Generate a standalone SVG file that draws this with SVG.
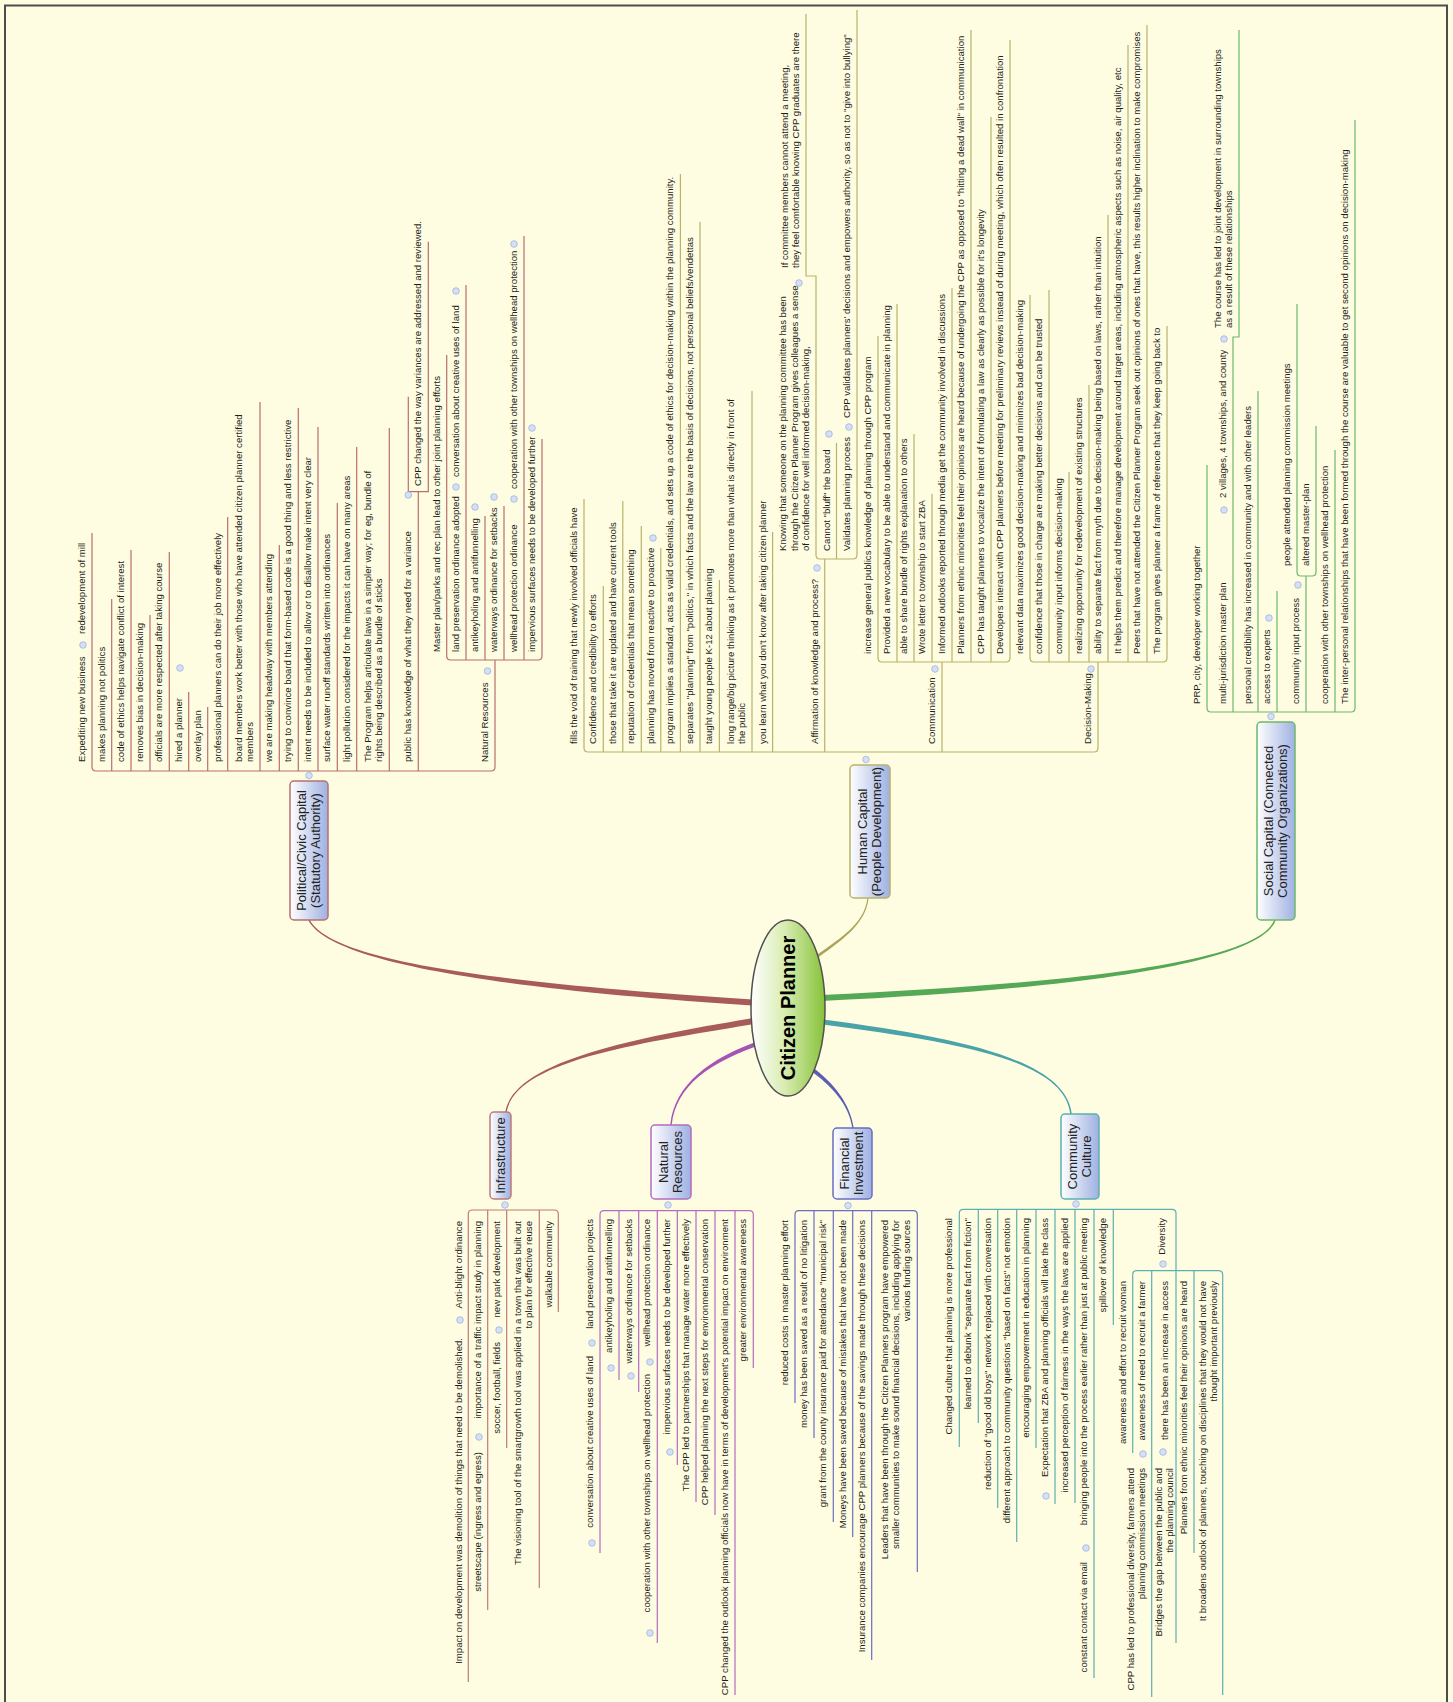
<svg xmlns="http://www.w3.org/2000/svg" width="1453" height="1702" viewBox="0 0 1453 1702">
<defs>
<linearGradient id="boxg" x1="0" y1="0" x2="1" y2="0"><stop offset="0" stop-color="#ffffff"/><stop offset="1" stop-color="#9fb1e2"/></linearGradient>
<linearGradient id="cg" x1="0" y1="0" x2="1" y2="0"><stop offset="0" stop-color="#ffffff"/><stop offset="0.45" stop-color="#d9edb2"/><stop offset="1" stop-color="#86c23a"/></linearGradient>
</defs>
<style>
.t{font-family:"Liberation Sans",Arial,sans-serif;font-size:9.6px;fill:#1e1e1e}
.e{text-anchor:end}
.bx{font-family:"Liberation Sans",Arial,sans-serif;font-size:13px;fill:#222;text-anchor:middle}
.ln{fill:none;stroke-width:1.2}
.bu{fill:#d5e0f5;stroke:#9db3e0;stroke-width:0.8}
.box{fill:url(#boxg);stroke-width:1.5}
.pol{stroke:#b96f6f}.hum{stroke:#b8b36a}.soc{stroke:#6cb86c}.inf{stroke:#bf7a7a}.nat{stroke:#b46cbe}.fin{stroke:#6a6ec0}.com{stroke:#5cb0b0}
</style>
<rect x="0" y="0" width="1453" height="1702" fill="#fffde1"/>
<rect x="5" y="5.5" width="1442" height="1720" fill="none" stroke="#4d4d4d" stroke-width="2"/>

<g id="connectors">
<path fill="#a85b5b" d="M760.2,1000 C480.2,982 330.7,959.7 309.7,919.7 L308.3,920.3 C329.3,960.3 479.8,988 759.8,1006 Z"/>
<path fill="#55a855" d="M821.1,1001 C1100.1,988 1260.7,960.3 1275.7,920.3 L1274.3,919.7 C1259.3,959.7 1099.9,982 820.9,995 Z"/>
<path fill="#a9a45a" d="M812.9,961.2 C840.9,941.2 865.6,925.1 868.6,898.1 L867.4,897.9 C864.4,924.9 839.1,938.8 811.1,958.8 Z"/>
<path fill="#a85b5b" d="M759.5,1017 C639.5,1037 514.3,1059.9 505.3,1111.9 L506.7,1112.1 C515.7,1060.1 640.5,1043 760.5,1023 Z"/>
<path fill="#a455b4" d="M761.3,1040.1 C709.3,1058.1 674.3,1084.9 670.3,1124.9 L671.7,1125.1 C675.7,1085.1 710.7,1061.9 762.7,1043.9 Z"/>
<path fill="#5a5fb5" d="M808.8,1069.6 C831.8,1085.6 849.3,1105.1 852.3,1128.1 L853.7,1127.9 C850.7,1104.9 834.2,1082.4 811.2,1066.4 Z"/>
<path fill="#4aa3a8" d="M822.7,1024.5 C959.7,1042.5 1064.3,1060.1 1070.3,1114.1 L1071.8,1113.9 C1065.8,1059.9 960.3,1037.5 823.3,1019.5 Z"/>
</g>

<g id="center">
<ellipse cx="788" cy="1008" rx="37" ry="88" fill="url(#cg)" stroke="#505050" stroke-width="1.5"/>
<text transform="translate(795,1008) rotate(-90)" text-anchor="middle" font-family="Liberation Sans, Arial, sans-serif" font-weight="bold" font-size="20" fill="#000">Citizen Planner</text>
</g>

<g id="political">
<rect class="box pol" x="290" y="781" width="38" height="139" rx="4"/>
<text class="bx" transform="translate(305.5,850.5) rotate(-90)">Political/Civic Capital<tspan x="0" dy="14">(Statutory Authority)</tspan></text>
<circle class="bu" cx="309" cy="775.5" r="3.3"/>
<path class="ln pol" d="M92,533 V767 Q92,771 96,771 H491 Q495,771 495,767 V660 M111.7,771 V599 M131,771 V550 M150,771 V615 M169.3,771 V552 M188.7,771 V692 M207.7,771 V707 M227.7,771 V517 M260,771 V402 M279.3,771 V545 M298.3,771 V408 M318,771 V427 M337.3,771 V503 M356.7,771 V447 M389.3,771 V428 M418.3,771 V491.7 M408.3,396.7 V491.7 H428.3 V241.7 M446.7,355 V656 Q446.7,660 450.7,660 H538 Q542,660 542,656 V439 M466,660 V285 M485,660 V516 M504,660 V506 M524,660 V236"/>
<text class="t" transform="translate(85,762) rotate(-90)">Expediting new business</text>
<circle class="bu" cx="83" cy="645" r="3.3"/>
<text class="t" transform="translate(85,634) rotate(-90)">redevelopment of mill</text>
<text class="t" transform="translate(104.7,762) rotate(-90)">makes planning not politics</text>
<text class="t" transform="translate(124,762) rotate(-90)">code of ethics helps navigate conflict of interest</text>
<text class="t" transform="translate(143,762) rotate(-90)">removes bias in decision-making</text>
<text class="t" transform="translate(162.3,762) rotate(-90)">officials are more respected after taking course</text>
<text class="t" transform="translate(181.7,762) rotate(-90)">hired a planner</text>
<circle class="bu" cx="180" cy="668" r="3.3"/>
<text class="t" transform="translate(200.7,762) rotate(-90)">overlay plan</text>
<text class="t" transform="translate(220.7,762) rotate(-90)">professional planners can do their job more effectively</text>
<text class="t" transform="translate(242,762) rotate(-90)">board members work better with those who have attended citizen planner certified<tspan x="0" dy="11">members</tspan></text>
<text class="t" transform="translate(272.3,762) rotate(-90)">we are making headway with members attending</text>
<text class="t" transform="translate(291.3,762) rotate(-90)">trying to convince board that form-based code is a good thing and less restrictive</text>
<text class="t" transform="translate(311,762) rotate(-90)">intent needs to be included to allow or to disallow make intent very clear</text>
<text class="t" transform="translate(330.3,762) rotate(-90)">surface water runoff standards written into ordinances</text>
<text class="t" transform="translate(349.7,762) rotate(-90)">light pollution considered for the impacts it can have on many areas</text>
<text class="t" transform="translate(371,762) rotate(-90)">The Program helps articulate laws in a simpler way; for eg, bundle of<tspan x="0" dy="11">rights being described as a bundle of sticks</tspan></text>
<text class="t" transform="translate(411.3,762) rotate(-90)">public has knowledge of what they need for a variance</text>
<circle class="bu" cx="408.3" cy="495" r="3.3"/>
<text class="t" transform="translate(421,486) rotate(-90)">CPP changed the way variances are addressed and reviewed.</text>
<text class="t" transform="translate(488,762) rotate(-90)">Natural Resources</text>
<circle class="bu" cx="487.5" cy="671" r="3.3"/>
<text class="t" transform="translate(439.7,652) rotate(-90)">Master plan/parks and rec plan lead to other joint planning efforts</text>
<text class="t" transform="translate(459,652) rotate(-90)">land preservation ordinance adopted</text>
<circle class="bu" cx="456" cy="487" r="3.3"/>
<text class="t" transform="translate(459,477) rotate(-90)">conversation about creative uses of land</text>
<circle class="bu" cx="456" cy="291" r="3.3"/>
<text class="t" transform="translate(478,652) rotate(-90)">antikeyholing and antifunnelling</text>
<circle class="bu" cx="475" cy="507" r="3.3"/>
<text class="t" transform="translate(497,652) rotate(-90)">waterways ordinance for setbacks</text>
<circle class="bu" cx="494" cy="497" r="3.3"/>
<text class="t" transform="translate(517,652) rotate(-90)">wellhead protection ordinance</text>
<circle class="bu" cx="514" cy="499" r="3.3"/>
<text class="t" transform="translate(517,489) rotate(-90)">cooperation with other townships on wellhead protection</text>
<circle class="bu" cx="514" cy="244" r="3.3"/>
<text class="t" transform="translate(535,652) rotate(-90)">impervious surfaces needs to be developed further</text>
<circle class="bu" cx="532" cy="428" r="3.3"/>
</g>

<g id="human">
<rect class="box hum" x="850" y="765" width="40" height="133" rx="4"/>
<text class="bx" transform="translate(866.5,831.5) rotate(-90)">Human Capital<tspan x="0" dy="14">(People Development)</tspan></text>
<circle class="bu" cx="866" cy="759.5" r="3.3"/>
<path class="ln hum" d="M584,499 V748 Q584,752 588,752 H1094 Q1098,752 1098,748 V662 M603.3,752 V586 M622.8,752 V501 M641.3,752 V526 M660.8,752 V548 M680.4,752 V174 M700,752 V222 M719.4,752 V580 M752,752 V391 M772.6,752 V532 M824.7,752 V559 M942,752 V662 M806,14 V276 H816 V555 Q816,559 820,559 H853 Q857,559 857,555 V10 M836.5,559 V443 M878,336 V658 Q878,662 882,662 H1006 Q1010,662 1010,658 V40 M897,662 V304 M914,662 V434 M932,662 V494 M952,662 V288 M971,662 V30 M991,662 V117 M1030,295 V658 Q1030,662 1034,662 H1163 Q1167,662 1167,658 V326 M1049,662 V290 M1069,662 V472 M1089,662 V385 M1108,662 V215 M1128,662 V45 M1147,662 V25"/>
<text class="t" transform="translate(576.8,744) rotate(-90)">fills the void of training that newly involved officials have</text>
<text class="t" transform="translate(596.3,744) rotate(-90)">Confidence and credibility to efforts</text>
<text class="t" transform="translate(615.8,744) rotate(-90)">those that take it are updated and have current tools</text>
<text class="t" transform="translate(634.3,744) rotate(-90)">reputation of credentials that mean something</text>
<text class="t" transform="translate(653.8,744) rotate(-90)">planning has moved from reactive to proactive</text>
<circle class="bu" cx="653" cy="538" r="3.3"/>
<text class="t" transform="translate(673.4,744) rotate(-90)">program implies a standard, acts as valid credentials, and sets up a code of ethics for decision-making within the planning community.</text>
<text class="t" transform="translate(693,744) rotate(-90)">separates "planning" from "politics," in which facts and the law are the basis of decisions, not personal beliefs/vendettas</text>
<text class="t" transform="translate(712.4,744) rotate(-90)">taught young people K-12 about planning</text>
<text class="t" transform="translate(734,744) rotate(-90)">long range/big picture thinking as it promotes more than what is directly in front of<tspan x="0" dy="11">the public</tspan></text>
<text class="t" transform="translate(765.6,744) rotate(-90)">you learn what you don't know after taking citizen planner</text>
<text class="t" transform="translate(817.7,744) rotate(-90)">Affirmation of knowledge and process?</text>
<circle class="bu" cx="817" cy="568" r="3.3"/>
<text class="t" transform="translate(786,551) rotate(-90)">Knowing that someone on the planning committee has been<tspan x="0" dy="11.5">through the Citizen Planner Program gives colleagues a sense</tspan><tspan x="0" dy="11.5">of confidence for well informed decision-making,</tspan></text>
<circle class="bu" cx="799" cy="283" r="3.3"/>
<text class="t" transform="translate(787.5,268) rotate(-90)">If committee members cannot attend a meeting,<tspan x="0" dy="11.5">they feel comfortable knowing CPP graduates are there</tspan></text>
<text class="t" transform="translate(830,551) rotate(-90)">Cannot "bluff" the board</text>
<circle class="bu" cx="829" cy="434" r="3.3"/>
<text class="t" transform="translate(850,551) rotate(-90)">Validates planning process</text>
<circle class="bu" cx="849" cy="427" r="3.3"/>
<text class="t" transform="translate(850,418) rotate(-90)">CPP validates planners' decisions and empowers authority, so as not to "give into bullying"</text>
<text class="t" transform="translate(935,744) rotate(-90)">Communication</text>
<circle class="bu" cx="935" cy="669" r="3.3"/>
<text class="t" transform="translate(871,654) rotate(-90)">increase general publics knowledge of planning through CPP program</text>
<text class="t" transform="translate(890,654) rotate(-90)">Provided a new vocabulary to be able to understand and communicate in planning</text>
<text class="t" transform="translate(907,654) rotate(-90)">able to share bundle of rights explanation to others</text>
<text class="t" transform="translate(925,654) rotate(-90)">Wrote letter to township to start ZBA</text>
<text class="t" transform="translate(945,654) rotate(-90)">Informed outlooks reported through media get the community involved in discussions</text>
<text class="t" transform="translate(964,654) rotate(-90)">Planners from ethnic minorities feel their opinions are heard because of undergoing the CPP as opposed to "hitting a dead wall" in communication</text>
<text class="t" transform="translate(984,654) rotate(-90)">CPP has taught planners to vocalize the intent of formulating a law as clearly as possible for it's longevity</text>
<text class="t" transform="translate(1003,654) rotate(-90)">Developers interact with CPP planners before meeting for preliminary reviews instead of during meeting, which often resulted in confrontation</text>
<text class="t" transform="translate(1091,744) rotate(-90)">Decision-Making</text>
<circle class="bu" cx="1091" cy="669" r="3.3"/>
<text class="t" transform="translate(1023,654) rotate(-90)">relevant data maximizes good decision-making and minimizes bad decision-making</text>
<text class="t" transform="translate(1042,654) rotate(-90)">confidence that those in charge are making better decisions and can be trusted</text>
<text class="t" transform="translate(1062,654) rotate(-90)">community input informs decision-making</text>
<text class="t" transform="translate(1082,654) rotate(-90)">realizing opportunity for redevelopment of existing structures</text>
<text class="t" transform="translate(1101,654) rotate(-90)">ability to separate fact from myth due to decision-making being based on laws, rather than intuition</text>
<text class="t" transform="translate(1121,654) rotate(-90)">It helps them predict and therefore manage development around target areas, including atmospheric aspects such as noise, air quality, etc</text>
<text class="t" transform="translate(1140,654) rotate(-90)">Peers that have not attended the Citizen Planner Program seek out opinions of ones that have, this results higher inclination to make compromises</text>
<text class="t" transform="translate(1160,654) rotate(-90)">The program gives planner a frame of reference that they keep going back to</text>
</g>

<g id="social">
<rect class="box soc" x="1257" y="722" width="38" height="198" rx="4"/>
<text class="bx" transform="translate(1272.5,821) rotate(-90)">Social Capital (Connected<tspan x="0" dy="14">Community Organizations)</tspan></text>
<circle class="bu" cx="1271" cy="716.5" r="3.3"/>
<path class="ln soc" d="M1207,465 V708 Q1207,712 1211,712 H1351 Q1355,712 1355,708 V120 M1233,712 V337 H1239 V30 M1258,712 V391 M1277,712 V591 M1306,712 V576 M1335,712 V450 M1297,304 V572 Q1297,576 1301,576 H1312 Q1316,576 1316,572 V426"/>
<text class="t" transform="translate(1200,704) rotate(-90)">PRP, city, developer working together</text>
<text class="t" transform="translate(1226,704) rotate(-90)">multi-jurisdiction master plan</text>
<circle class="bu" cx="1224" cy="510" r="3.3"/>
<text class="t" transform="translate(1226,498) rotate(-90)">2 villages, 4 townships, and county</text>
<circle class="bu" cx="1224" cy="339" r="3.3"/>
<text class="t" transform="translate(1221,328) rotate(-90)">The course has led to joint development in surrounding townships<tspan x="0" dy="11">as a result of these relationships</tspan></text>
<text class="t" transform="translate(1251,704) rotate(-90)">personal credibility has increased in community and with other leaders</text>
<text class="t" transform="translate(1270,704) rotate(-90)">access to experts</text>
<circle class="bu" cx="1269" cy="618" r="3.3"/>
<text class="t" transform="translate(1299,704) rotate(-90)">community input process</text>
<circle class="bu" cx="1298" cy="585" r="3.3"/>
<text class="t" transform="translate(1290,566) rotate(-90)">people attended planning commission meetings</text>
<text class="t" transform="translate(1309,566) rotate(-90)">altered master-plan</text>
<text class="t" transform="translate(1328,704) rotate(-90)">cooperation with other townships on wellhead protection</text>
<text class="t" transform="translate(1348,704) rotate(-90)">The inter-personal relationships that have been formed through the course are valuable to get second opinions on decision-making</text>
</g>

<g id="infrastructure">
<rect class="box inf" x="490" y="1112" width="21" height="87" rx="4"/>
<text class="bx" transform="translate(505,1155.5) rotate(-90)">Infrastructure</text>
<circle class="bu" cx="505" cy="1205" r="3.3"/>
<path class="ln inf" d="M468.3,1682 V1214 Q468.3,1210 472.3,1210 H554.3 Q558.3,1210 558.3,1214 V1312 M487.7,1210 V1610 M506.7,1210 V1448 M539.3,1210 V1588"/>
<text class="t e" transform="translate(462,1221) rotate(-90)">Anti-blight ordinance</text>
<circle class="bu" cx="460" cy="1320" r="3.3"/>
<text class="t e" transform="translate(462,1338) rotate(-90)">Impact on development was demolition of things that need to be demolished.</text>
<text class="t e" transform="translate(481,1221) rotate(-90)">importance of a traffic impact study in planning</text>
<circle class="bu" cx="479" cy="1437" r="3.3"/>
<text class="t e" transform="translate(481,1452) rotate(-90)">streetscape (ingress and egress)</text>
<text class="t e" transform="translate(500,1221) rotate(-90)">new park development</text>
<circle class="bu" cx="499" cy="1330" r="3.3"/>
<text class="t e" transform="translate(500,1342) rotate(-90)">soccer, football, fields</text>
<text class="t e" transform="translate(521,1221) rotate(-90)">The visioning tool of the smartgrowth tool was applied in a town that was built out<tspan x="0" dy="11">to plan for effective reuse</tspan></text>
<text class="t e" transform="translate(551.5,1221) rotate(-90)">walkable community</text>
</g>

<g id="natural">
<rect class="box nat" x="651" y="1125" width="40" height="74" rx="4"/>
<text class="bx" transform="translate(667.5,1162) rotate(-90)">Natural<tspan x="0" dy="14">Resources</tspan></text>
<circle class="bu" cx="668" cy="1205" r="3.3"/>
<path class="ln nat" d="M600,1553 V1214.7 Q600,1210.7 604,1210.7 H749.3 Q753.3,1210.7 753.3,1214.7 V1368 M619,1210.7 V1380 M638.7,1210.7 V1392 M657.3,1210.7 V1643 M677.3,1210.7 V1465 M696,1210.7 V1502 M715,1210.7 V1515 M735,1210.7 V1695"/>
<text class="t e" transform="translate(593,1219) rotate(-90)">land preservation projects</text>
<circle class="bu" cx="592" cy="1343" r="3.3"/>
<text class="t e" transform="translate(593,1356) rotate(-90)">conversation about creative uses of land</text>
<circle class="bu" cx="592" cy="1543" r="3.3"/>
<text class="t e" transform="translate(612,1219) rotate(-90)">antikeyholing and antifunnelling</text>
<circle class="bu" cx="611" cy="1368" r="3.3"/>
<text class="t e" transform="translate(631.7,1219) rotate(-90)">waterways ordinance for setbacks</text>
<circle class="bu" cx="631" cy="1376" r="3.3"/>
<text class="t e" transform="translate(650.3,1219) rotate(-90)">wellhead protection ordinance</text>
<circle class="bu" cx="650" cy="1362" r="3.3"/>
<text class="t e" transform="translate(650.3,1374) rotate(-90)">cooperation with other townships on wellhead protection</text>
<circle class="bu" cx="650" cy="1633" r="3.3"/>
<text class="t e" transform="translate(670.3,1219) rotate(-90)">impervious surfaces needs to be developed further</text>
<circle class="bu" cx="670" cy="1452" r="3.3"/>
<text class="t e" transform="translate(689,1219) rotate(-90)">The CPP led to partnerships that manage water more effectively</text>
<text class="t e" transform="translate(708,1219) rotate(-90)">CPP helped planning the next steps for environmental conservation</text>
<text class="t e" transform="translate(728,1219) rotate(-90)">CPP changed the outlook planning officials now have in terms of development's potential impact on environment</text>
<text class="t e" transform="translate(746.3,1219) rotate(-90)">greater environmental awareness</text>
</g>

<g id="financial">
<rect class="box fin" x="833" y="1128" width="39" height="71" rx="4"/>
<text class="bx" transform="translate(849,1163.5) rotate(-90)">Financial<tspan x="0" dy="14">Investment</tspan></text>
<circle class="bu" cx="848" cy="1205.5" r="3.3"/>
<path class="ln fin" d="M795,1403 V1214.7 Q795,1210.7 799,1210.7 H913.3 Q917.3,1210.7 917.3,1214.7 V1572 M814,1210.7 V1438 M833.3,1210.7 V1522 M852.7,1210.7 V1537 M871.7,1210.7 V1660"/>
<text class="t e" transform="translate(788,1220) rotate(-90)">reduced costs in master planning effort</text>
<text class="t e" transform="translate(807,1220) rotate(-90)">money has been saved as a result of no litigation</text>
<text class="t e" transform="translate(826.3,1220) rotate(-90)">grant from the county insurance paid for attendance "municipal risk"</text>
<text class="t e" transform="translate(845.7,1220) rotate(-90)">Moneys have been saved because of mistakes that have not been made</text>
<text class="t e" transform="translate(864.7,1220) rotate(-90)">Insurance companies encourage CPP planners because of the savings made through these decisions</text>
<text class="t e" transform="translate(888,1220) rotate(-90)">Leaders that have been through the Citizen Planners program have empowered<tspan x="0" dy="11">smaller communities to make sound financial decisions, including applying for</tspan><tspan x="0" dy="11">various funding sources</tspan></text>
</g>

<g id="community">
<rect class="box com" x="1061" y="1114" width="38" height="85" rx="4"/>
<text class="bx" transform="translate(1076.5,1156.5) rotate(-90)">Community<tspan x="0" dy="14">Culture</tspan></text>
<circle class="bu" cx="1076" cy="1204" r="3.3"/>
<path class="ln com" d="M959.3,1447 V1213.3 Q959.3,1209.3 963.3,1209.3 H1172 Q1176,1209.3 1176,1213.3 V1643 M978.3,1209.3 V1423 M997.7,1209.3 V1508 M1016.7,1209.3 V1542 M1036,1209.3 V1448 M1055,1209.3 V1504 M1075,1209.3 V1503 M1094,1209.3 V1678 M1113.3,1209.3 V1325 M1132.7,1453 V1274.7 Q1132.7,1270.7 1136.7,1270.7 H1218.7 Q1222.7,1270.7 1222.7,1274.7 V1695 M1151.7,1270.7 V1697 M1194,1270.7 V1553"/>
<text class="t e" transform="translate(952.3,1218) rotate(-90)">Changed culture that planning is more professional</text>
<text class="t e" transform="translate(971.3,1218) rotate(-90)">learned to debunk "separate fact from fiction"</text>
<text class="t e" transform="translate(990.7,1218) rotate(-90)">reduction of "good old boys" network replaced with conversation</text>
<text class="t e" transform="translate(1009.7,1218) rotate(-90)">different approach to community questions "based on facts" not emotion</text>
<text class="t e" transform="translate(1029,1218) rotate(-90)">encouraging empowerment in education in planning</text>
<text class="t e" transform="translate(1048,1218) rotate(-90)">Expectation that ZBA and planning officials will take the class</text>
<circle class="bu" cx="1046" cy="1496" r="3.3"/>
<text class="t e" transform="translate(1068,1218) rotate(-90)">increased perception of fairness in the ways the laws are applied</text>
<text class="t e" transform="translate(1087,1218) rotate(-90)">bringing people into the process earlier rather than just at public meeting</text>
<circle class="bu" cx="1086" cy="1548" r="3.3"/>
<text class="t e" transform="translate(1087,1562) rotate(-90)">constant contact via email</text>
<text class="t e" transform="translate(1106.3,1218) rotate(-90)">spillover of knowledge</text>
<text class="t e" transform="translate(1165,1218) rotate(-90)">Diversity</text>
<circle class="bu" cx="1163" cy="1264" r="3.3"/>
<text class="t e" transform="translate(1126,1281) rotate(-90)">awareness and effort to recruit woman</text>
<text class="t e" transform="translate(1145,1281) rotate(-90)">awareness of need to recruit a farmer</text>
<circle class="bu" cx="1143" cy="1454" r="3.3"/>
<text class="t e" transform="translate(1133.5,1468) rotate(-90)">CPP has led to professional diversity, farmers attend<tspan x="0" dy="11">planning commission meetings</tspan></text>
<text class="t e" transform="translate(1168,1281) rotate(-90)">there has been an increase in access</text>
<circle class="bu" cx="1163" cy="1452" r="3.3"/>
<text class="t e" transform="translate(1162,1468) rotate(-90)">Bridges the gap between the public and<tspan x="0" dy="11">the planning council</tspan></text>
<text class="t e" transform="translate(1187,1281) rotate(-90)">Planners from ethnic minorities feel their opinions are heard</text>
<text class="t e" transform="translate(1205.5,1281) rotate(-90)">It broadens outlook of planners, touching on disciplines that they would not have<tspan x="0" dy="11">thought important previously</tspan></text>
</g>
</svg>
